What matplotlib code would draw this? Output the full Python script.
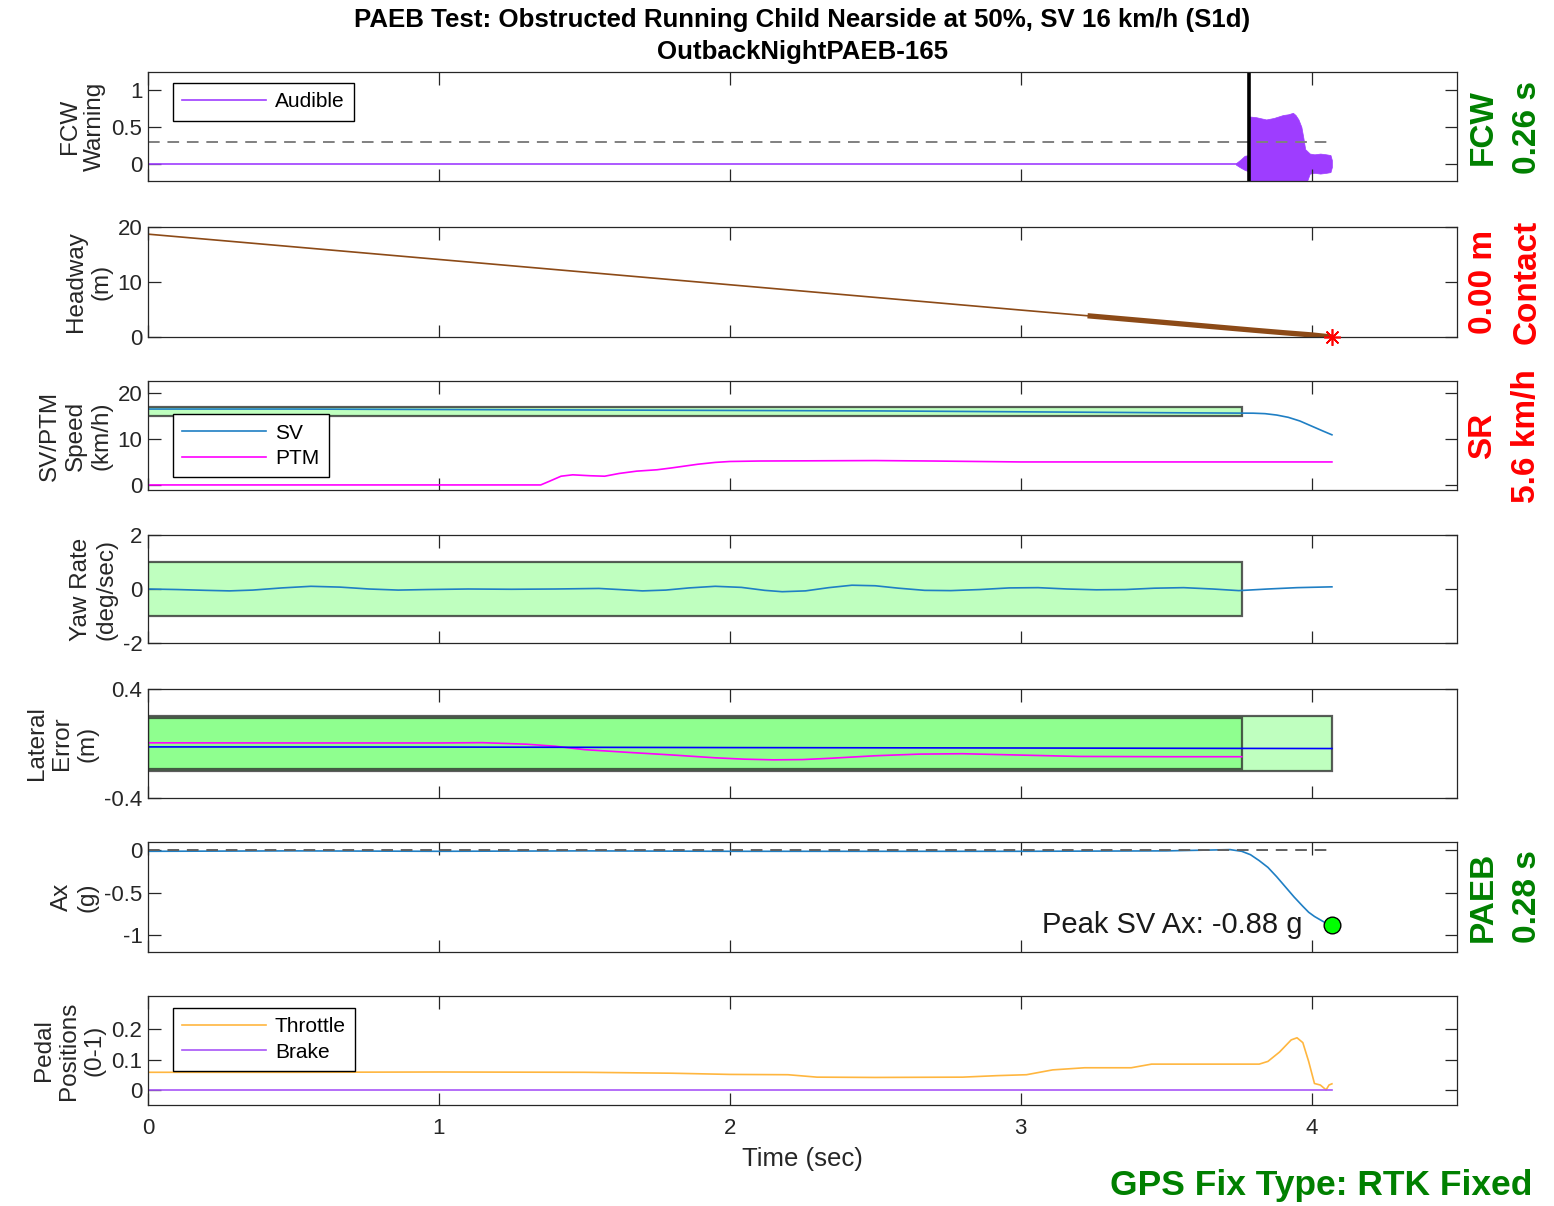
import numpy as np
import matplotlib
matplotlib.use('Agg')
import matplotlib.pyplot as plt
from matplotlib.patches import Rectangle
from matplotlib.ticker import FuncFormatter

plt.rcParams['font.family'] = ['Liberation Sans', 'DejaVu Sans']
plt.rcParams['axes.unicode_minus'] = False

# ---------------- data ----------------
title_lines = ["PAEB Test: Obstructed Running Child Nearside at 50%, SV 16 km/h (S1d)",
               "OutbackNightPAEB-165"]

# FCW audible warning: quiet part and burst envelope
aud_quiet_t = [0.0, 3.75]
aud_quiet_v = [0.0, 0.0]
aud_t = [3.74, 3.756, 3.77, 3.784, 3.787, 3.81, 3.844, 3.87, 3.902, 3.92, 3.936,
         3.945, 3.955, 3.965, 3.972, 3.978, 3.994, 4.01, 4.03, 4.05, 4.065, 4.07]
aud_hi = [0.01, 0.06, 0.11, 0.12, 0.64, 0.63, 0.60, 0.62, 0.66, 0.67, 0.69,
          0.66, 0.60, 0.50, 0.35, 0.20, 0.14, 0.13, 0.14, 0.13, 0.12, 0.05]
aud_lo = [-0.01, -0.05, -0.08, -0.10, -0.30, -0.30, -0.30, -0.30, -0.30, -0.30, -0.30,
          -0.30, -0.30, -0.30, -0.30, -0.30, -0.13, -0.12, -0.13, -0.12, -0.11, -0.04]
fcw_threshold = 0.3
fcw_time = 3.784
end_time = 4.07

# Headway (m)
hw_t = [0.0, 1.0, 2.0, 3.0, 3.23]
hw_v = [18.7, 14.1, 9.5, 4.9, 3.86]
hw_bold_t = [3.23, 3.4, 3.6, 3.8, 3.9, 3.95, 4.0, 4.04, 4.07]
hw_bold_v = [3.86, 3.08, 2.16, 1.24, 0.80, 0.59, 0.38, 0.16, 0.0]

# Speeds (km/h)
sv_t = [0.0, 0.5, 1.0, 1.5, 2.0, 2.5, 3.0, 3.5, 3.8, 3.84, 3.88, 3.92, 3.96, 4.0, 4.04, 4.07]
sv_v = [16.6, 16.6, 16.5, 16.4, 16.3, 16.2, 16.0, 15.8, 15.7, 15.6, 15.3, 14.8, 14.0, 12.9, 11.8, 11.0]
ptm_t = [0.0, 1.35, 1.38, 1.42, 1.46, 1.52, 1.57, 1.62, 1.68, 1.75, 1.8, 1.89,
         1.95, 2.0, 2.1, 2.3, 2.5, 2.7, 3.0, 3.5, 4.07]
ptm_v = [0.1, 0.1, 0.9, 2.0, 2.3, 2.1, 2.0, 2.6, 3.1, 3.4, 3.8, 4.6,
         5.0, 5.2, 5.3, 5.35, 5.4, 5.3, 5.1, 5.1, 5.1]
speed_band = (15.0, 17.0)
band_end = 3.76

# Yaw rate (deg/sec)
yaw_t = [0.0, 0.1, 0.2, 0.28, 0.36, 0.46, 0.56, 0.66, 0.76, 0.86, 0.96, 1.1, 1.25,
         1.4, 1.55, 1.62, 1.7, 1.78, 1.86, 1.95, 2.04, 2.12, 2.18, 2.26, 2.34, 2.42,
         2.5, 2.58, 2.67, 2.76, 2.86, 2.96, 3.06, 3.16, 3.26, 3.36, 3.46, 3.56,
         3.66, 3.75, 3.85, 3.95, 4.07]
yaw_v = [0.0, -0.02, -0.05, -0.07, -0.04, 0.04, 0.1, 0.07, 0.0, -0.04, -0.02, 0.0, -0.01,
         0.0, 0.02, -0.02, -0.07, -0.04, 0.04, 0.1, 0.06, -0.05, -0.1, -0.07, 0.05, 0.14,
         0.12, 0.03, -0.05, -0.06, -0.02, 0.04, 0.05, 0.0, -0.03, -0.02, 0.03, 0.05,
         0.0, -0.06, 0.0, 0.05, 0.08]
yaw_band = (-1.0, 1.0)

# Lateral error (m)
lat_sv_t = [0.0, 1.0, 2.0, 3.0, 3.76, 4.07]
lat_sv_v = [-0.025, -0.026, -0.03, -0.033, -0.036, -0.037]
lat_ptm_t = [0.0, 0.5, 1.0, 1.15, 1.3, 1.4, 1.5, 1.65, 1.8, 1.95, 2.05, 2.15, 2.25,
             2.35, 2.5, 2.65, 2.8, 3.0, 3.2, 3.5, 3.76]
lat_ptm_v = [0.005, 0.004, 0.004, 0.006, -0.005, -0.02, -0.045, -0.065, -0.084, -0.105,
             -0.115, -0.12, -0.118, -0.108, -0.09, -0.078, -0.075, -0.085, -0.095, -0.097,
             -0.097]
lat_band_a = (-0.185, 0.185)
lat_band_b = (-0.2, 0.205)

# Longitudinal acceleration (g)
ax_t = [0.0, 0.5, 1.0, 1.5, 2.0, 2.5, 3.0, 3.5, 3.65, 3.72, 3.76, 3.79, 3.82, 3.85,
        3.88, 3.91, 3.94, 3.97, 3.99, 4.01, 4.03, 4.05, 4.07]
ax_v = [-0.01, -0.005, -0.01, -0.005, -0.01, -0.01, -0.01, -0.005, 0.005, 0.01, -0.01,
        -0.05, -0.12, -0.2, -0.31, -0.43, -0.55, -0.66, -0.73, -0.78, -0.82, -0.86, -0.88]
peak_ax = -0.88

# Pedal positions (0-1)
thr_t = [0.0, 0.5, 1.0, 1.5, 1.8, 2.0, 2.2, 2.3, 2.5, 2.8, 2.92, 3.02, 3.11, 3.22, 3.38,
         3.45, 3.82, 3.85, 3.89, 3.93, 3.95, 3.97, 3.99, 4.01, 4.03, 4.05, 4.06, 4.07]
thr_v = [0.058, 0.058, 0.059, 0.058, 0.055, 0.051, 0.05, 0.042, 0.041, 0.042, 0.047, 0.05,
         0.066, 0.073, 0.073, 0.085, 0.085, 0.094, 0.125, 0.165, 0.172, 0.156, 0.094, 0.021,
         0.016, 0.0, 0.016, 0.02]
brk_t = [0.0, 4.07]
brk_v = [0.0, 0.0]

# ---------------- styling ----------------
C_AUD = '#9E3DFF'
C_BRK = '#A855F7'
C_THR = '#FFB63F'
C_SV = '#1F7FC4'
C_PTM = '#FF00FF'
C_HW = '#8C4A17'
C_GREEN = '#008000'
C_RED = '#FF0000'
BAND_FACE = (0.0, 1.0, 0.0, 0.25)
BAND_EDGE = (0.15, 0.15, 0.15, 0.75)
AX_EDGE = '#262626'

W, H = 1554, 1206
fig = plt.figure(figsize=(W / 100, H / 100), dpi=100)

panels_px = [(72, 181), (227, 337), (381, 490), (535, 643), (689, 798), (842, 952), (996, 1105)]
x0, x1 = 148, 1457
axes = []
for top, bot in panels_px:
    a = fig.add_axes([x0 / W, 1 - bot / H, (x1 - x0) / W, (bot - top) / H])
    axes.append(a)

fmt = FuncFormatter(lambda v, p: ('%g' % round(v, 6)))
for a in axes:
    a.set_xlim(0, 4.5)
    a.set_xticks([0, 1, 2, 3, 4])
    a.tick_params(direction='in', length=9, width=0.9, top=True, right=True,
                  labelsize=16, colors=AX_EDGE, pad=4)
    a.tick_params(axis='x', pad=9)
    a.yaxis.set_major_formatter(fmt)
    for s in a.spines.values():
        s.set_color(AX_EDGE)
        s.set_linewidth(0.9)
    if a is not axes[-1]:
        a.tick_params(labelbottom=False)

leg_kw = dict(loc='upper left', fontsize=15, frameon=True, fancybox=False,
              edgecolor='k', framealpha=1, handlelength=4.0, handletextpad=0.45,
              borderaxespad=0, borderpad=0.45, labelspacing=0.3)

# Panel 1: FCW warning
a = axes[0]
a.plot(aud_quiet_t, aud_quiet_v, color=C_AUD, lw=1.2, label='Audible')
a.fill_between(aud_t, aud_lo, aud_hi, color=C_AUD, lw=0.5)
a.plot([0, end_time], [fcw_threshold, fcw_threshold], '--', color='#808080', lw=1.4,
       dashes=(6, 4))
a.axvline(fcw_time, color='k', lw=2.6)
a.set_ylim(-0.23, 1.24)
a.set_yticks([0, 0.5, 1])
a.set_ylabel('FCW\nWarning', fontsize=17.5)
a.legend(bbox_to_anchor=(0.019, 0.9), **leg_kw)

# Panel 2: headway
a = axes[1]
a.plot(hw_t, hw_v, color=C_HW, lw=1.2)
a.plot(hw_bold_t, hw_bold_v, color=C_HW, lw=3.8, solid_capstyle='butt')
a.plot([hw_bold_t[-1]], [hw_bold_v[-1]], marker=(8, 2, 0), color=C_RED, ms=12, mew=1.2,
       clip_on=False, zorder=5)
a.set_ylim(0, 20)
a.set_yticks([0, 10, 20])
a.set_ylabel('Headway\n(m)', fontsize=17.5)

# Panel 3: speeds
a = axes[2]
a.add_patch(Rectangle((0, speed_band[0]), band_end, speed_band[1] - speed_band[0],
                      facecolor=BAND_FACE, edgecolor=BAND_EDGE, lw=1.6))
a.plot(sv_t, sv_v, color=C_SV, lw=1.2, label='SV')
a.plot(ptm_t, ptm_v, color=C_PTM, lw=1.2, label='PTM')
a.set_ylim(-1.0, 22.7)
a.set_yticks([0, 10, 20])
a.set_ylabel('SV/PTM\nSpeed\n(km/h)', fontsize=17.5)
a.legend(bbox_to_anchor=(0.019, 0.695), **leg_kw)

# Panel 4: yaw rate
a = axes[3]
a.add_patch(Rectangle((0, yaw_band[0]), band_end, yaw_band[1] - yaw_band[0],
                      facecolor=BAND_FACE, edgecolor=BAND_EDGE, lw=1.6))
a.plot(yaw_t, yaw_v, color=C_SV, lw=1.2)
a.set_ylim(-2, 2)
a.set_yticks([-2, 0, 2])
a.set_ylabel('Yaw Rate\n(deg/sec)', fontsize=17.5)

# Panel 5: lateral error
a = axes[4]
a.add_patch(Rectangle((0, lat_band_b[0]), end_time, lat_band_b[1] - lat_band_b[0],
                      facecolor=BAND_FACE, edgecolor=BAND_EDGE, lw=1.6))
a.add_patch(Rectangle((0, lat_band_a[0]), band_end, lat_band_a[1] - lat_band_a[0],
                      facecolor=BAND_FACE, edgecolor=BAND_EDGE, lw=1.6))
a.plot(lat_ptm_t, lat_ptm_v, color=C_PTM, lw=1.2)
a.plot(lat_sv_t, lat_sv_v, color='#0000FF', lw=1.2)
a.set_ylim(-0.4, 0.4)
a.set_yticks([-0.4, 0.4])
a.set_ylabel('Lateral\nError\n(m)', fontsize=17.5)

# Panel 6: acceleration
a = axes[5]
a.plot(ax_t, ax_v, color=C_SV, lw=1.2)
a.plot([0, end_time], [0, 0], '--', color='#606060', lw=1.4, dashes=(6, 4))
a.plot([ax_t[-1]], [peak_ax], 'o', ms=12, mfc='#00FF00', mec='k', mew=1)
a.text(3.97, peak_ax, 'Peak SV Ax: %.2f g' % peak_ax, fontsize=21,
       ha='right', va='center', color='#1a1a1a')
a.set_ylim(-1.2, 0.1)
a.set_yticks([-1, -0.5, 0])
a.set_ylabel('Ax\n(g)', fontsize=17.5)

# Panel 7: pedals
a = axes[6]
a.plot(thr_t, thr_v, color=C_THR, lw=1.2, label='Throttle')
a.plot(brk_t, brk_v, color=C_BRK, lw=1.2, label='Brake')
a.set_ylim(-0.05, 0.31)
a.set_yticks([0, 0.1, 0.2])
a.set_ylabel('Pedal\nPositions\n(0-1)', fontsize=17.5)
a.set_xlabel('Time (sec)', fontsize=18.5, color=AX_EDGE, labelpad=6)
a.legend(bbox_to_anchor=(0.019, 0.89), **leg_kw)

for a in axes:
    a.yaxis.label.set_color(AX_EDGE)

# Titles
cx = (x0 + x1) / 2 / W
fig.text(cx, 1 - 20 / H, title_lines[0], ha='center', va='center', fontsize=18.6,
         fontweight='bold')
fig.text(cx, 1 - 52 / H, title_lines[1], ha='center', va='center', fontsize=18.6,
         fontweight='bold')

# Side annotations
side = [('FCW', '0.26 s', C_GREEN, 127),
        ('0.00 m', 'Contact', C_RED, 282),
        ('SR', '5.6 km/h', C_RED, 436),
        ('PAEB', '0.28 s', C_GREEN, 897)]
for t1, t2, col, yc in side:
    fig.text(1483 / W, 1 - yc / H, t1, rotation=90, ha='center', va='center',
             fontsize=24, fontweight='bold', color=col)
    fig.text(1527 / W, 1 - yc / H, t2, rotation=90, ha='center', va='center',
             fontsize=24, fontweight='bold', color=col)

fig.text(1532 / W, 1 - 1185 / H, 'GPS Fix Type: RTK Fixed', ha='right', va='center',
         fontsize=25.5, fontweight='bold', color=C_GREEN)

fig.savefig('out.png', dpi=100)
